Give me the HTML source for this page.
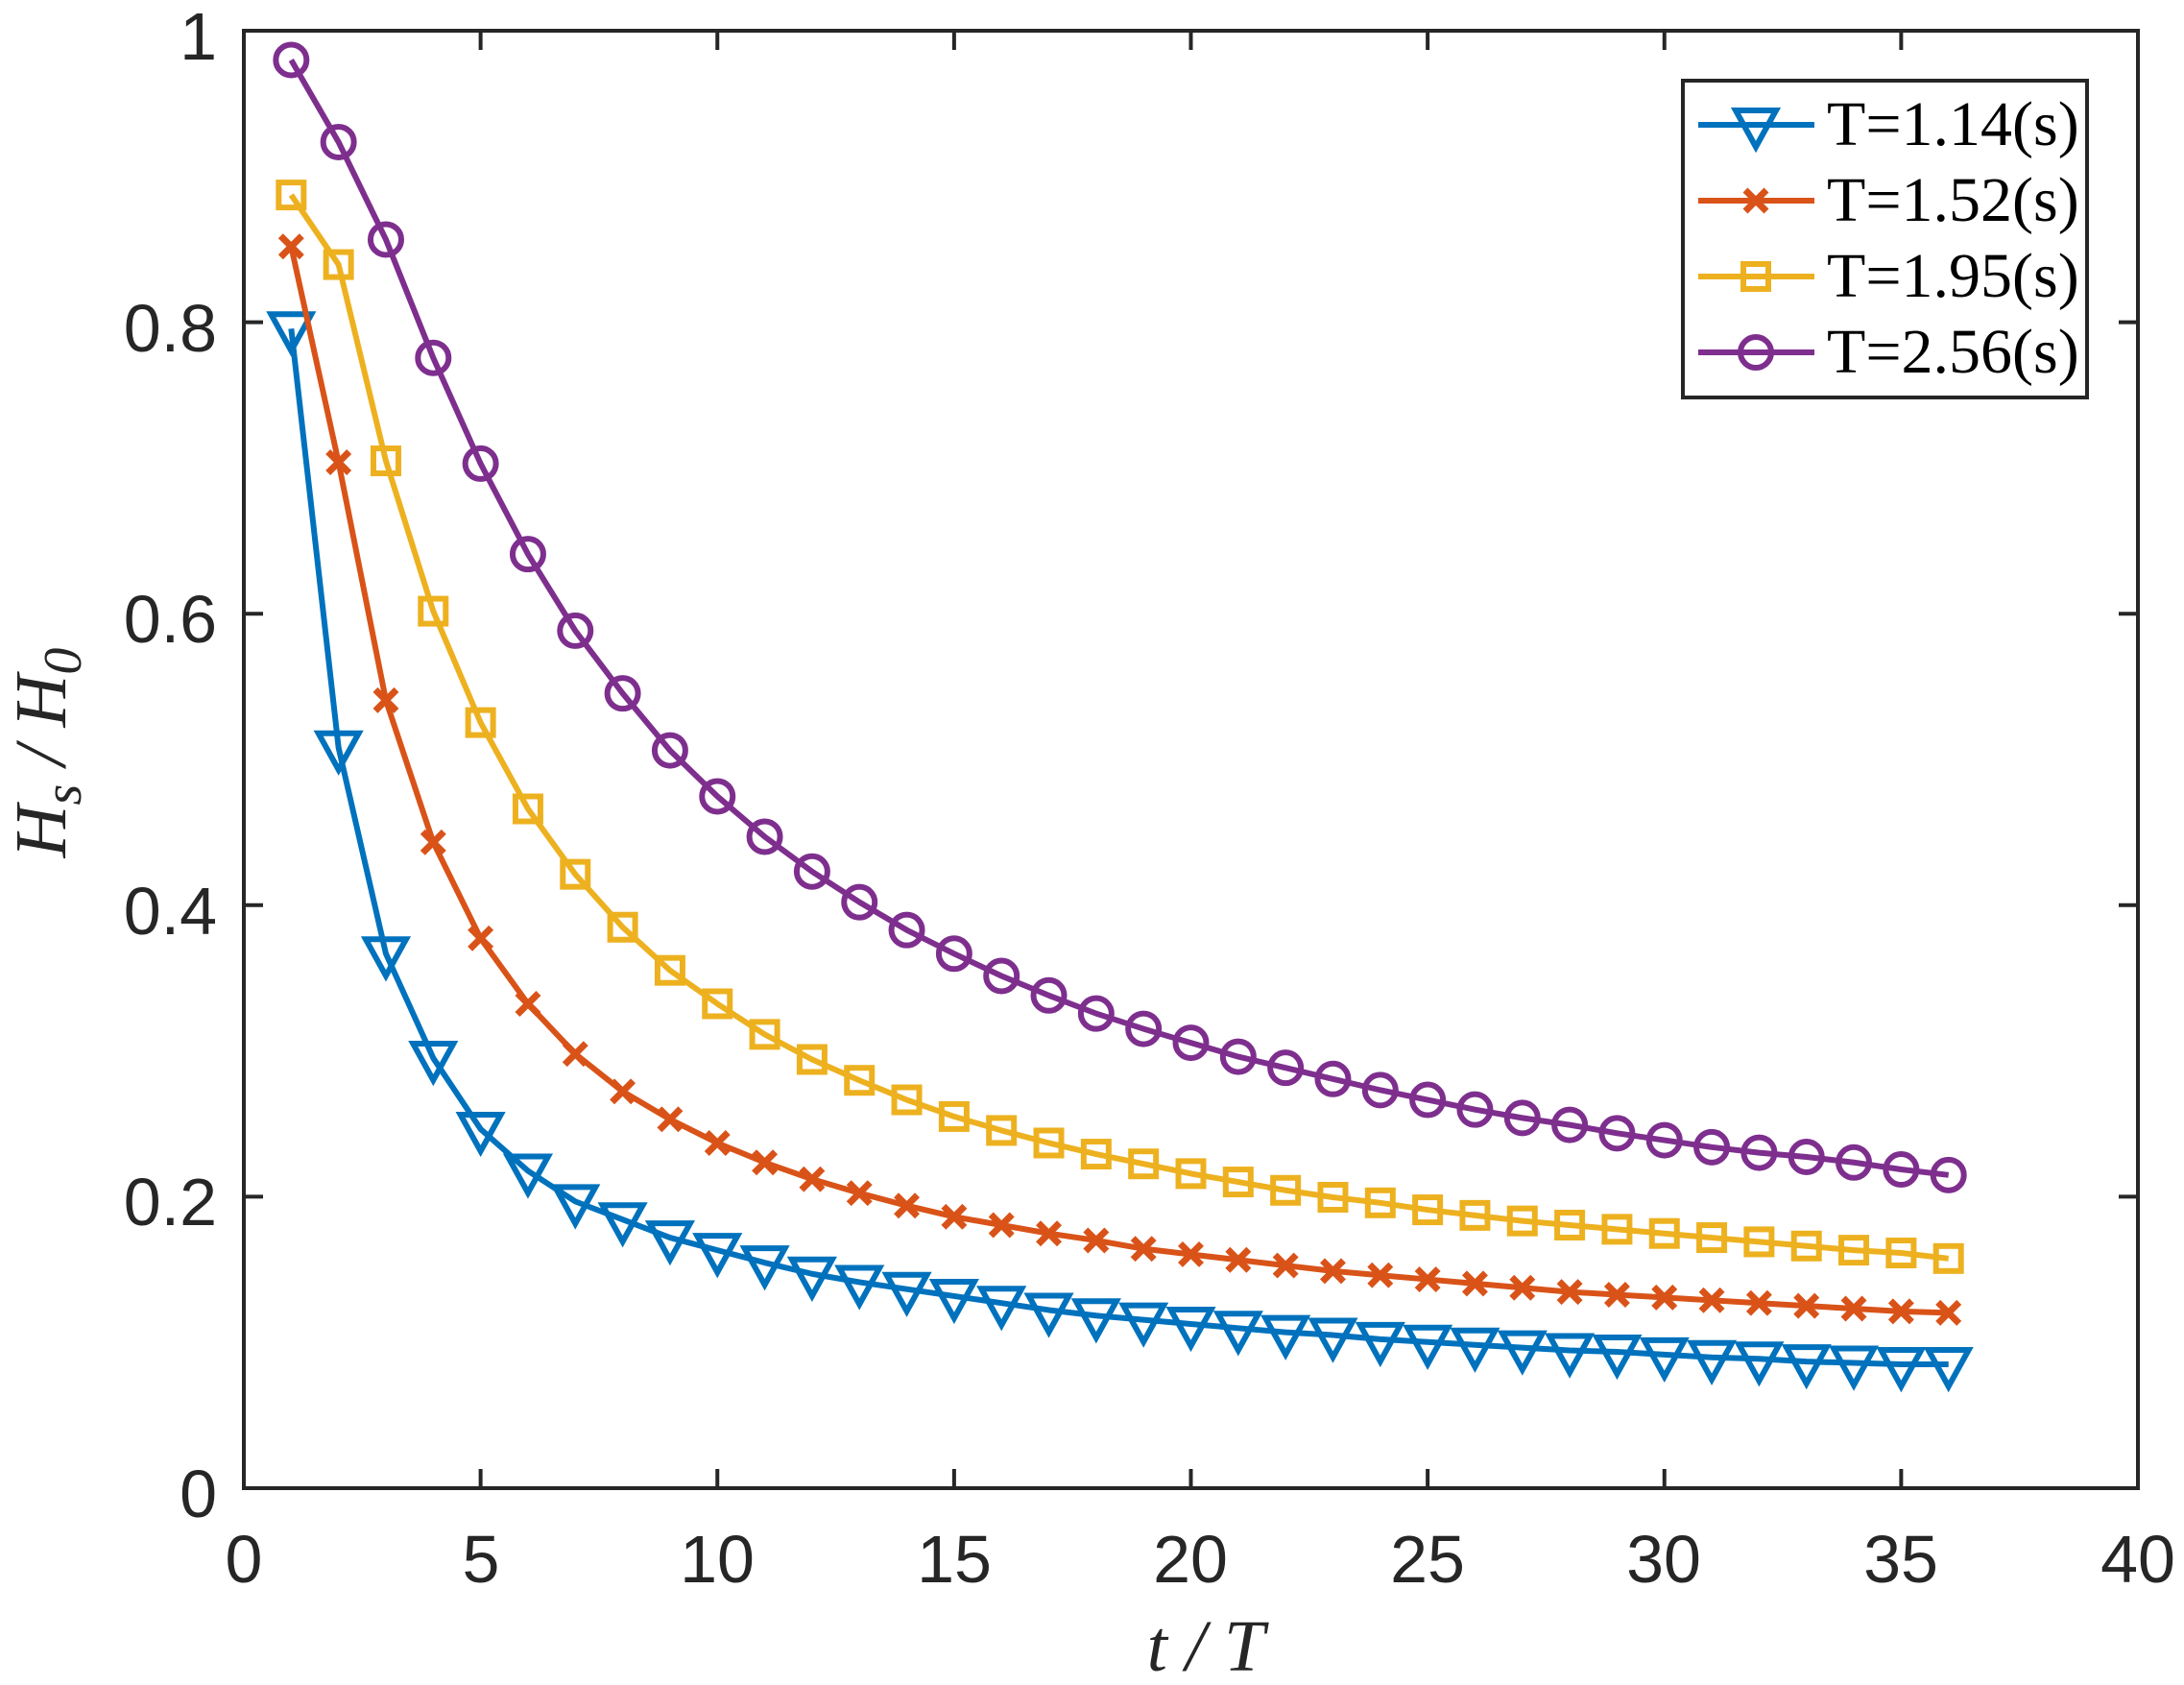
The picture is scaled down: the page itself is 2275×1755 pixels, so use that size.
<!DOCTYPE html>
<html><head><meta charset="utf-8"><style>
html,body{margin:0;padding:0;background:#fff;}
svg{display:block;}
.tk{font-family:"Liberation Sans",sans-serif;font-size:70px;fill:#262626;}
.lg{font-family:"Liberation Serif",serif;font-size:66px;fill:#000;}
.ax{font-family:"Liberation Serif",serif;font-style:italic;font-size:76px;fill:#262626;}
</style></head><body>
<svg id="s" width="2275" height="1755" viewBox="0 0 2275 1755" xmlns="http://www.w3.org/2000/svg">
<rect width="2275" height="1755" fill="#fff"/>
<g id="ticks" stroke="#262626" stroke-width="4" fill="none"></g>
<g id="data"></g>
<rect x="254" y="32" width="1973" height="1518" fill="none" stroke="#262626" stroke-width="4"/>
<g class="tk" text-anchor="end">
<text x="226" y="1580">0</text>
<text x="226" y="1276">0.2</text>
<text x="226" y="973">0.4</text>
<text x="226" y="669">0.6</text>
<text x="226" y="366">0.8</text>
<text x="226" y="62">1</text>
</g>
<g class="tk" text-anchor="middle">
<text x="254" y="1648">0</text>
<text x="501" y="1648">5</text>
<text x="747" y="1648">10</text>
<text x="994" y="1648">15</text>
<text x="1240" y="1648">20</text>
<text x="1487" y="1648">25</text>
<text x="1733" y="1648">30</text>
<text x="1980" y="1648">35</text>
<text x="2227" y="1648">40</text>
</g>
<text class="ax" x="1256" y="1740" text-anchor="middle">t / T</text>
<text class="ax" transform="translate(68,784) rotate(-90)" text-anchor="middle">H<tspan font-size="56" dy="16">s</tspan><tspan dy="-16"> / H</tspan><tspan font-size="56" dy="16">0</tspan></text>
<rect x="1753" y="84" width="421" height="330" fill="#fff" stroke="#262626" stroke-width="4"/>
<g id="leg"></g>
<g class="lg">
<text x="1903" y="151">T=1.14(s)</text>
<text x="1903" y="230">T=1.52(s)</text>
<text x="1903" y="309">T=1.95(s)</text>
<text x="1903" y="388">T=2.56(s)</text>
</g>
</svg>
<script>
var NS="http://www.w3.org/2000/svg";
function el(p,t,a){var e=document.createElementNS(NS,t);for(var k in a)e.setAttribute(k,a[k]);p.appendChild(e);return e;}
var tk=document.getElementById('ticks');
for(var i=1;i<8;i++){var x=254+i*5*49.325;el(tk,'line',{x1:x,y1:1550,x2:x,y2:1530});el(tk,'line',{x1:x,y1:32,x2:x,y2:52});}
for(var j=1;j<5;j++){var y=1550-j*303.6;el(tk,'line',{x1:254,y1:y,x2:274,y2:y});el(tk,'line',{x1:2227,y1:y,x2:2207,y2:y});}
var D={
b:[236,537,685,760,811,841,863,876,889,898,907,915,921,926,931,936,941,945,948,951,954,957,959,962,964,966,968,970,971,973,975,976,978,979,980,980],
r:[177,332,503,605,674,721,757,784,804,821,835,847,857,866,874,880,886,891,897,901,905,909,913,916,919,922,925,928,930,932,934,936,938,940,942,943],
y:[140,190,331,439,519,581,628,666,697,721,743,761,776,790,802,812,821,829,836,843,849,855,860,864,869,873,877,880,883,886,889,892,895,898,900,904],
p:[43,102,172,257,333,398,453,498,539,572,601,626,648,668,685,701,715,728,739,749,759,767,775,783,790,797,803,808,814,819,824,828,831,835,840,844]};
var C={b:'#0072BD',r:'#D95319',y:'#EDB120',p:'#7E2F8E'};
var g=document.getElementById('data');
function marker(p,k,x,y){var c=C[k];
 if(k=='b'){el(p,'polygon',{points:(x-21)+','+(y-15)+' '+(x+21)+','+(y-15)+' '+x+','+(y+23),fill:'none',stroke:c,'stroke-width':6});}
 else if(k=='r'){el(p,'path',{d:'M'+(x-11)+' '+(y-11)+'L'+(x+11)+' '+(y+11)+'M'+(x-11)+' '+(y+11)+'L'+(x+11)+' '+(y-11),stroke:c,'stroke-width':7});}
 else if(k=='y'){el(p,'rect',{x:x-13,y:y-13,width:26,height:26,fill:'none',stroke:c,'stroke-width':6});}
 else {el(p,'circle',{cx:x,cy:y,r:16,fill:'none',stroke:c,'stroke-width':6});}
}
['b','r','y','p'].forEach(function(k){
 var pts=D[k].map(function(v,i){return [254+(i+1)*49.325,32+(v-22)*1.4499];});
 el(g,'polyline',{points:pts.map(function(p){return p.join(',');}).join(' '),fill:'none',stroke:C[k],'stroke-width':6,'stroke-linejoin':'round'});
 pts.forEach(function(p){marker(g,k,p[0],p[1]);});
});
var lg=document.getElementById('leg');
['b','r','y','p'].forEach(function(k,i){var y=130+i*79;
 el(lg,'line',{x1:1769,y1:y,x2:1890,y2:y,stroke:C[k],'stroke-width':6});marker(lg,k,1829,y);});
</script>
</body></html>
